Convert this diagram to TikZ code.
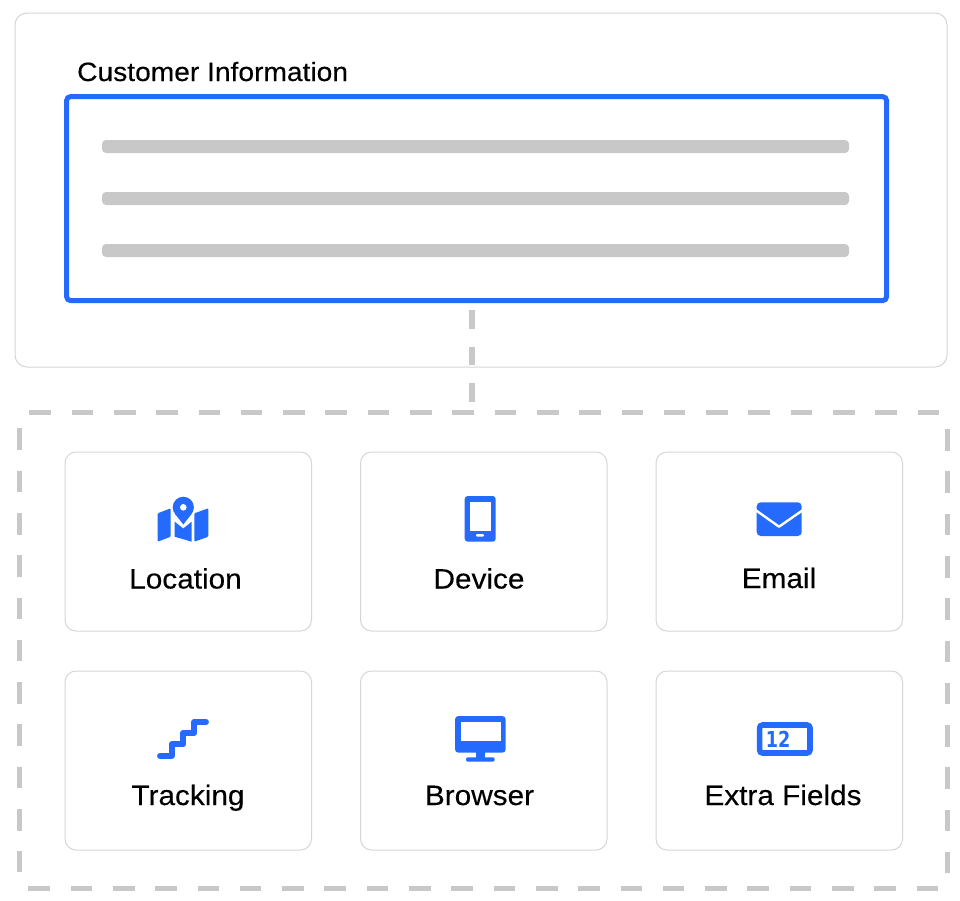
\documentclass[tikz,border=0pt]{standalone}
\usepackage{fontspec}
\setmainfont{Liberation Sans}[FakeStretch=1.063,FakeBold=0.25]
\newfontfamily\numfont{DejaVu Sans}[FakeStretch=0.8]
\definecolor{accent}{HTML}{246BFD}
\definecolor{bordergray}{HTML}{D6D6D6}
\definecolor{dashgray}{HTML}{C8C8C8}
\tikzset{
  panel/.style={draw=bordergray,line width=1pt,rounded corners=#1,fill=white,inner sep=0pt,outer sep=0pt,anchor=north west},
  panel/.default=12pt,
  infobox/.style={draw=accent,line width=5pt,rounded corners=4pt,inner sep=0pt,outer sep=0pt,anchor=north west,minimum width=820pt,minimum height=204pt},
  bar/.style={fill=dashgray,rounded corners=4pt,inner sep=0pt,outer sep=0pt,anchor=north west,minimum width=747pt,minimum height=13pt},
  groupbox/.style={inner sep=0pt,outer sep=0pt,anchor=north west,minimum width=928pt,minimum height=475.6pt},
  groupdash/.style={draw=dashgray,line width=5.2pt,dash pattern=on 21.6pt off 20.7pt},
  card/.style={panel=11pt,minimum width=246.5pt,minimum height=179pt},
  cardlabel/.style={font=\fontsize{28}{32}\selectfont,text=black,inner sep=0pt,anchor=base},
  linkline/.style={draw=dashgray,line width=5.2pt,dash pattern=on 18.5pt off 18.2pt},
  iconfill/.style={fill=accent,draw=none},
  iconcut/.style={fill=white,draw=none},
}
\begin{document}
\begin{tikzpicture}[x=1pt,y=-1pt]
\useasboundingbox (0,0) rectangle (960,900);
\fill[white] (0,0) rectangle (960,900);
% upper panel
\node[panel,minimum width=932pt,minimum height=354pt] (outer) at (15,13) {};
\node[inner sep=0pt,anchor=base west,font=\fontsize{26.5}{30}\selectfont] (title) at (77,81) {Customer Information};
\node[infobox] (info) at (66.6,96.6) {};
\node[bar] (b1) at (102,140) {};
\node[bar] (b2) at (102,192) {};
\node[bar] (b3) at (102,244) {};
% dashed group
\node[groupbox] (group) at (19.3,412.7) {};
\draw[groupdash] ([xshift=10pt]group.north west) -- ([xshift=-8.3pt]group.north east);
\draw[groupdash] ([xshift=9pt]group.south west) -- ([xshift=-9.3pt]group.south east);
\draw[groupdash] ([yshift=-15.6pt]group.north west) -- ([yshift=16pt]group.south west);
\draw[groupdash] ([yshift=-16.3pt]group.north east) -- ([yshift=15pt]group.south east);
\coordinate (linkA) at (472,310);
\coordinate (linkB) at (472,402);
\draw[linkline] (linkA) -- (linkB);
% cards
\node[card] (c1) at (65,452) {};
\node[card] (c2) at (360.5,452) {};
\node[card] (c3) at (656,452) {};
\node[card] (c4) at (65,671) {};
\node[card] (c5) at (360.5,671) {};
\node[card] (c6) at (656,671) {};
\node[cardlabel] (l1) at (185.5,588.5) {Location};
\node[cardlabel] (l2) at (479,588.5) {Device};
\node[cardlabel] (l3) at (779,588) {Email};
\node[cardlabel] (l4) at (188,805) {Tracking};
\node[cardlabel] (l5) at (479.5,805) {Browser};
\node[cardlabel] (l6) at (783,805) {Extra Fields};
% location icon
\fill[iconfill,rounded corners=1pt] (157.7,513.3) -- (170.7,508.3) -- (170.7,536.7) -- (157.7,541.7) -- cycle;
\fill[iconfill,rounded corners=1pt] (194.3,513.3) -- (208.3,508.3) -- (208.3,536.7) -- (194.3,541.7) -- cycle;
\fill[iconfill] (174.7,521.7) -- (183.3,528.5) -- (191.7,521.7) -- (191.7,541.7) -- (174.7,536.7) -- cycle;
\fill[iconfill] (183.3,507.3) circle[radius=10.6];
\fill[iconfill] (174.95,513.83) -- (183.3,524.5) -- (191.65,513.83) -- cycle;
\fill[iconcut] (183.3,507.3) circle[radius=3.3];
% device icon
\fill[iconfill,rounded corners=3pt] (464.7,496) rectangle (495.7,541.7);
\fill[iconcut] (470,501.7) rectangle (490.7,530.7);
\fill[iconcut,rounded corners=1pt] (476,534) rectangle (484,536.7);
% email icon
\fill[iconfill,rounded corners=4pt] (756.7,502.3) rectangle (801.7,536);
\draw[white,line width=2.4pt,line join=round] (755.5,510) -- (779,526.7) -- (803,510);
% stairs icon
\draw[accent,line width=5.9pt,line cap=round,line join=round] (160,755.7) -- (171.7,755.7) -- (171.7,744.3) -- (183.3,744.3) -- (183.3,733) -- (194.3,733) -- (194.3,722) -- (206,722);
% monitor icon
\fill[iconfill,rounded corners=3.5pt] (455,716) rectangle (505.7,752.7);
\fill[iconcut] (460.7,721.7) rectangle (500.7,741.3);
\fill[iconfill] (475.7,752) rectangle (485,758);
\fill[iconfill,rounded corners=2pt] (466,757.3) rectangle (494.7,761.7);
% counter icon
\draw[accent,line width=5.6pt,rounded corners=3pt] (759.6,725) rectangle (810,753);
\node[inner sep=0pt,anchor=center,text=accent,font=\numfont\bfseries\fontsize{22}{22}\selectfont] (num) at (778,739) {12};
\end{tikzpicture}
\end{document}
